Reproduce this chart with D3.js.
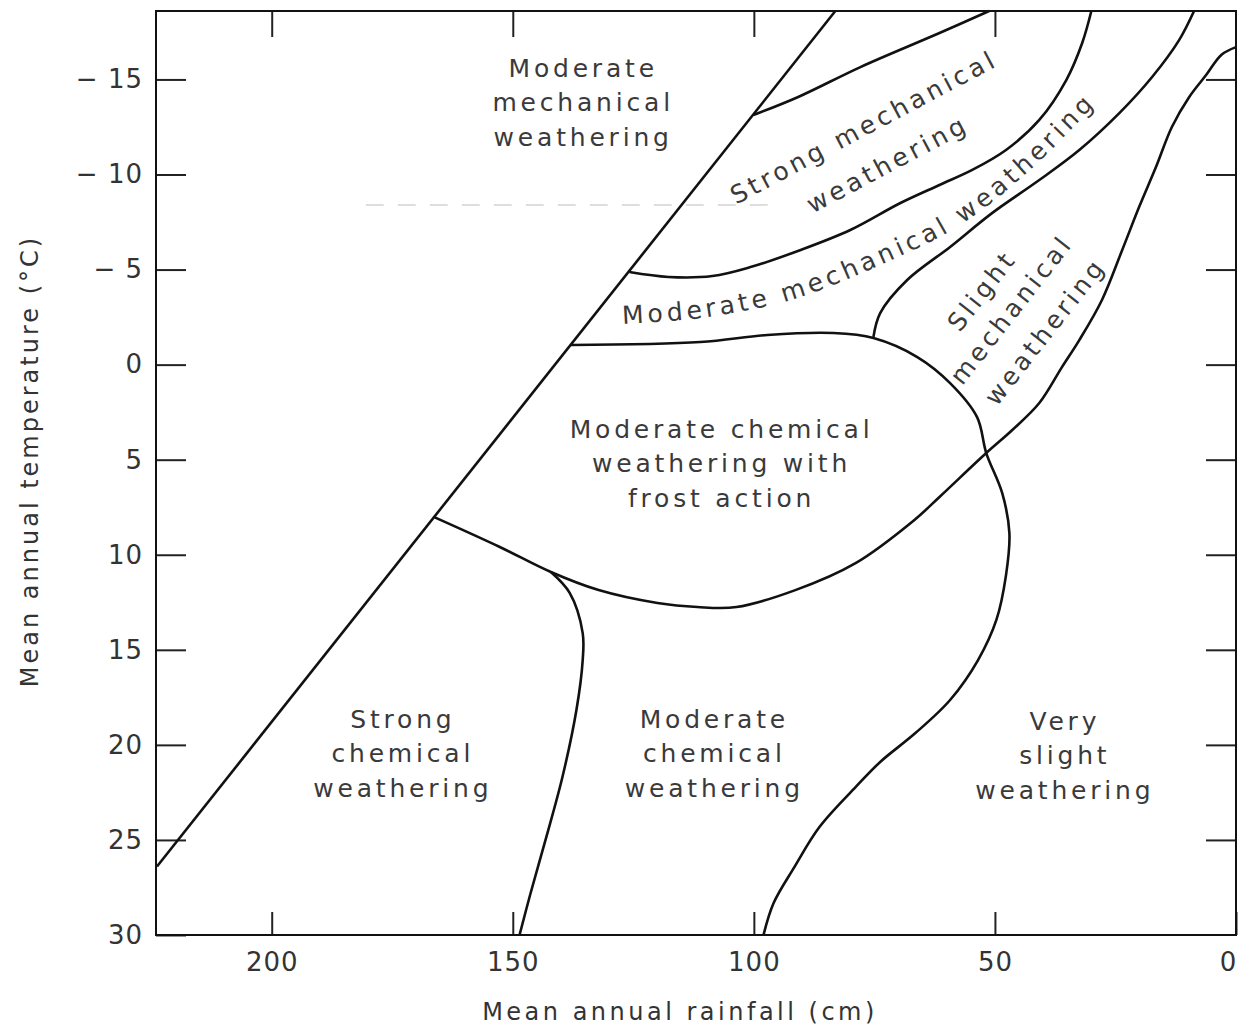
<!DOCTYPE html>
<html>
<head>
<meta charset="utf-8">
<script src="https://cdnjs.cloudflare.com/ajax/libs/d3/7.8.5/d3.min.js"></script>
<style>
  body { margin: 0; background: #fff; }
  svg { display: block; }
</style>
</head>
<body>
<div id="chart"></div>
<script>
// Weathering regions by mean annual rainfall (cm) and temperature (°C)
// every boundary is a list of [rainfall, temperature] pairs

var xTicks = [200, 150, 100, 50, 0];
var yTicks = [-15, -10, -5, 0, 5, 10, 15, 20, 25, 30];

// straight line that closes the chemical / mechanical fields on the wet side
var diagonalLine = [[223.8, 26.4], [83.1, -18.6]];

// strong mechanical field, lower-left edge
var strongMechEdge = [[100.1, -13.13], [90.8, -14.08], [77.9, -15.65], [61.5, -17.44], [51.2, -18.6]];

// between strong and moderate mechanical
var moderateMechTop = [[125.8, -4.87], [117.7, -4.61], [108.6, -4.66], [100.7, -5.13], [90.3, -6.03],
  [80.0, -7.08], [69.6, -8.5], [61.5, -9.45], [54.7, -10.24], [47.7, -11.29], [40.8, -12.87],
  [35.2, -14.97], [31.9, -16.92], [30.0, -18.6]];

// top of frost action field, then the dry edge of the chemical fields
var frostTopDryEdge = [[138.0, -1.03], [111.1, -1.19], [97.2, -1.56], [83.5, -1.66], [75.2, -1.4],
  [66.1, -0.4], [59.3, 0.97], [53.7, 2.76], [51.8, 4.65], [48.5, 6.75], [47.0, 8.86], [47.7, 11.07],
  [49.7, 13.43], [53.5, 15.54], [59.3, 17.64], [66.5, 19.38], [73.8, 20.9], [78.9, 22.22],
  [86.4, 24.32], [91.6, 26.43], [95.9, 28.32], [98.0, 30]];

// between moderate and slight mechanical
var slightMechTop = [[75.2, -1.45], [73.8, -2.71], [68.2, -4.45], [59.3, -6.19], [50.6, -7.97],
  [40.8, -9.71], [32.5, -11.29], [24.2, -13.23], [17.4, -15.13], [11.8, -17.07], [8.7, -18.6]];

// dry edge of slight mechanical, carried on as the bottom of the frost field
var slightMechDryEdge = [[0, -16.7], [3.0, -16.3], [6.2, -15.23], [9.7, -14.08], [13.3, -12.5],
  [16.6, -10.39], [20.1, -8.29], [23.6, -6.03], [27.8, -3.4], [32.5, -1.29], [36.1, 0.13],
  [40.8, 2.02], [46.4, 3.44], [51.8, 4.65], [61.5, 6.96], [66.7, 8.17], [78.9, 10.44], [91.4, 11.86],
  [103.6, 12.75], [111.7, 12.75], [120.0, 12.54], [132.2, 11.86], [142.1, 10.91], [152.7, 9.59],
  [166.3, 8.02]];

// between strong and moderate chemical
var strongChemEdge = [[142.1, 10.91], [138.2, 12.01], [135.5, 14.12], [135.5, 15.54], [136.8, 18.17],
  [139.7, 21.69], [143.4, 25.17], [146.3, 27.79], [148.6, 30]];

// faint dashed mark left on the scan
var scanDash = [[180.5, -8.4], [96.6, -8.4]];

var boundaries = [diagonalLine, strongMechEdge, moderateMechTop, frostTopDryEdge,
  slightMechTop, slightMechDryEdge, strongChemEdge];

// region names, centre of the middle line of text in data units
var regionLabels = [
  { lines: ["Moderate", "mechanical", "weathering"], at: [135.4, -13.8] },
  { lines: ["Moderate chemical", "weathering with", "frost action"], at: [106.7, 5.2] },
  { lines: ["Strong", "chemical", "weathering"], at: [172.8, 20.45] },
  { lines: ["Moderate", "chemical", "weathering"], at: [108.2, 20.45] },
  { lines: ["Very", "slight", "weathering"], at: [35.5, 20.55] }
];
var strongMechLabel = [
  { text: "Strong mechanical", at: [77.2, -12.5] },
  { text: "weathering", at: [72.3, -10.55] }
];
var slightMechLabel = [
  { text: "Slight", at: [52.7, -3.9] },
  { text: "mechanical", at: [46.6, -2.9] },
  { text: "weathering", at: [39.6, -1.75] }
];
// baseline that "Moderate mechanical weathering" follows
var moderateMechPath = [[127.2, -2.14], [111.1, -2.45], [92.4, -3.4], [73.8, -5.24], [57.2, -7.34],
  [42.7, -10.24], [32.3, -12.87], [25.1, -14.71]];

var width = 1239;
var height = 1026;

var svg = d3.select("#chart").append("svg")
  .attr("width", width)
  .attr("height", height);

var xScale = d3.scaleLinear().domain([224, 0]).range([156, 1236]);
var yScale = d3.scaleLinear().domain([-18.6, 30]).range([11, 935]);

var fontFamily = "'DejaVu Sans', Verdana, sans-serif";

// faint scan mark
svg.append("path")
  .attr("d", d3.line().x(function(d) { return xScale(d[0]); }).y(function(d) { return yScale(d[1]); })(scanDash))
  .attr("fill", "none")
  .attr("stroke", "#d4d4d4")
  .attr("stroke-width", 1.5)
  .attr("stroke-dasharray", "18 14");

// axes, ticks point inward
function styleAxis(g) {
  g.select(".domain").remove();
  g.selectAll(".tick line").attr("stroke", "#222").attr("stroke-width", 2);
  g.selectAll(".tick text")
    .attr("fill", "#333")
    .style("font-family", fontFamily)
    .style("font-size", "26px")
    .style("letter-spacing", "1px");
}

var yFormat = function(d) { return d < 0 ? "\u2212 " + (-d) : String(d); };

svg.append("g")
  .attr("transform", "translate(" + xScale(224) + ",0)")
  .call(d3.axisLeft(yScale).tickValues(yTicks).tickSizeInner(-30).tickSizeOuter(0).tickPadding(13).tickFormat(yFormat))
  .call(styleAxis);

svg.append("g")
  .attr("transform", "translate(" + xScale(0) + ",0)")
  .call(d3.axisRight(yScale).tickValues(yTicks.slice(0, 9)).tickSizeInner(-30).tickSizeOuter(0).tickFormat(""))
  .call(styleAxis);

svg.append("g")
  .attr("transform", "translate(0," + yScale(-18.6) + ")")
  .call(d3.axisTop(xScale).tickValues(xTicks.slice(0, 4)).tickSizeInner(-26).tickSizeOuter(0).tickFormat(""))
  .call(styleAxis);

var bottomAxis = svg.append("g")
  .attr("transform", "translate(0," + yScale(30) + ")")
  .call(d3.axisBottom(xScale).tickValues(xTicks).tickSizeInner(-23).tickSizeOuter(0).tickPadding(18))
  .call(styleAxis);

// the 0 label sits just inside the page edge
bottomAxis.selectAll(".tick text")
  .filter(function(d) { return d === 0; })
  .attr("dx", "-8");

// frame
svg.append("rect")
  .attr("x", xScale(224))
  .attr("y", yScale(-18.6))
  .attr("width", xScale(0) - xScale(224))
  .attr("height", yScale(30) - yScale(-18.6))
  .attr("fill", "none")
  .attr("stroke", "#111")
  .attr("stroke-width", 2);

// boundary curves
var curve = d3.line()
  .x(function(d) { return xScale(d[0]); })
  .y(function(d) { return yScale(d[1]); })
  .curve(d3.curveCatmullRom.alpha(0.5));

svg.selectAll("path.boundary")
  .data(boundaries)
  .enter()
  .append("path")
  .attr("class", "boundary")
  .attr("d", curve)
  .attr("fill", "none")
  .attr("stroke", "#111")
  .attr("stroke-width", 2.6)
  .attr("stroke-linejoin", "round");

// region labels
var labelColor = "#3a3a3a";
var labelSize = "25px";
var labelSpacing = "3.8px";
var lineGap = 34.5;

regionLabels.forEach(function(r) {
  var cx = xScale(r.at[0]);
  var cy = yScale(r.at[1]);
  r.lines.forEach(function(line, i) {
    svg.append("text")
      .attr("x", cx)
      .attr("y", cy + (i - (r.lines.length - 1) / 2) * lineGap + 9)
      .attr("text-anchor", "middle")
      .attr("fill", labelColor)
      .style("font-family", fontFamily)
      .style("font-size", labelSize)
      .style("letter-spacing", labelSpacing)
      .text(line);
  });
});

function rotatedLabels(list, angle) {
  list.forEach(function(l) {
    var cx = xScale(l.at[0]);
    var cy = yScale(l.at[1]);
    svg.append("text")
      .attr("transform", "translate(" + cx + "," + cy + ") rotate(" + angle + ")")
      .attr("text-anchor", "middle")
      .attr("dy", "0.35em")
      .attr("fill", labelColor)
      .style("font-family", fontFamily)
      .style("font-size", labelSize)
      .style("letter-spacing", labelSpacing)
      .text(l.text);
  });
}
rotatedLabels(strongMechLabel, -28);
rotatedLabels(slightMechLabel, -52);

// curved label
svg.append("path")
  .attr("id", "modMechPath")
  .attr("d", d3.line()
    .x(function(d) { return xScale(d[0]); })
    .y(function(d) { return yScale(d[1]); })
    .curve(d3.curveCatmullRom.alpha(0.5))(moderateMechPath))
  .attr("fill", "none")
  .attr("stroke", "none");

svg.append("text")
  .attr("fill", labelColor)
  .style("font-family", fontFamily)
  .style("font-size", labelSize)
  .style("letter-spacing", "4px")
  .append("textPath")
  .attr("href", "#modMechPath")
  .attr("startOffset", "0")
  .text("Moderate mechanical weathering");

// axis titles
svg.append("text")
  .attr("x", 680)
  .attr("y", 1020)
  .attr("text-anchor", "middle")
  .attr("fill", "#333")
  .style("font-family", fontFamily)
  .style("font-size", "24px")
  .style("letter-spacing", "3.5px")
  .text("Mean annual rainfall (cm)");

svg.append("text")
  .attr("transform", "translate(38,461) rotate(-90)")
  .attr("text-anchor", "middle")
  .attr("fill", "#333")
  .style("font-family", fontFamily)
  .style("font-size", "24px")
  .style("letter-spacing", "3px")
  .text("Mean annual temperature (\u00b0C)");
</script>
</body>
</html>
